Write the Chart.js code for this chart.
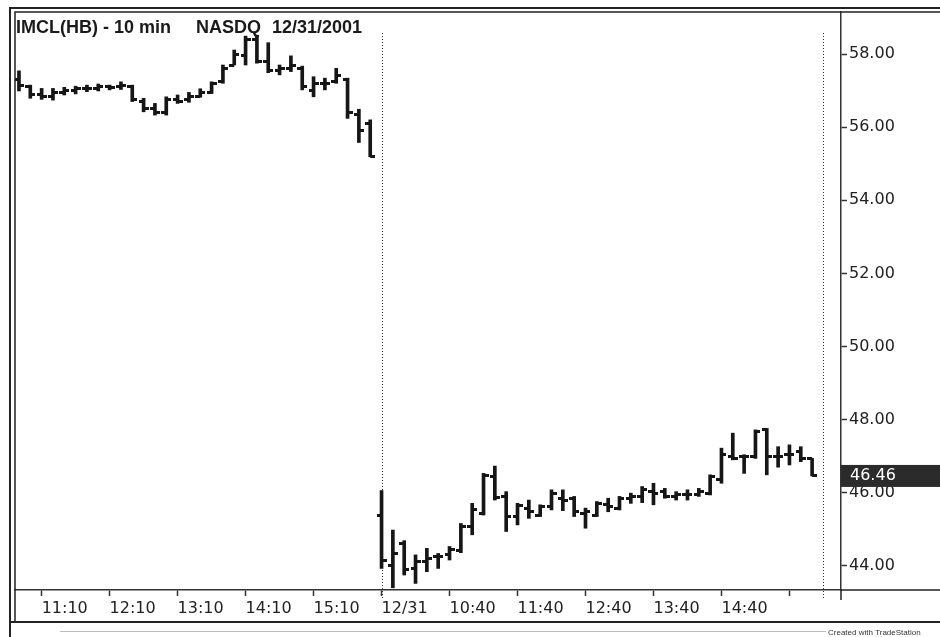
<!DOCTYPE html>
<html>
<head>
<meta charset="utf-8">
<script src="https://cdn.jsdelivr.net/npm/chart.js@4.4.0/dist/chart.umd.min.js"></script>
<style>
  html, body { margin: 0; padding: 0; background: #fff; }
  #wrap { position: relative; width: 940px; height: 637px; }
</style>
</head>
<body>
<div id="wrap"><canvas id="myChart" width="940" height="637"></canvas></div>
<script>
// IMCL 10 min bars, 12/28 (10:50-16:00) then 12/31 (9:40-16:00)
const opens = [57.30,57.10,56.90,56.85,56.95,57.00,57.05,57.05,57.10,57.10,57.10,56.70,56.50,56.40,56.75,56.75,
  56.85,56.95,57.25,57.70,57.95,58.40,57.80,57.55,57.60,57.60,57.00,57.20,57.25,57.30,56.35,56.10,
  45.39,44.02,44.60,43.93,44.12,44.25,44.30,44.42,45.07,45.44,46.44,45.90,45.35,45.57,45.39,45.62,
  45.85,45.85,45.44,45.39,45.67,45.58,45.85,45.90,46.03,46.03,45.90,45.94,45.94,45.99,46.35,47.00,
  47.00,46.99,47.72,46.99,47.04,47.13,46.94];
const highs = [57.54,57.15,57.06,57.06,57.09,57.12,57.15,57.18,57.15,57.24,57.15,56.79,56.65,56.83,56.88,56.95,
  57.05,57.24,57.70,58.11,58.49,58.49,58.31,57.70,57.95,57.67,57.38,57.34,57.61,57.34,56.49,56.20,
  46.06,44.98,44.69,44.30,44.48,44.34,44.53,45.16,45.71,46.53,46.73,46.03,45.71,45.80,45.67,46.08,
  46.08,45.90,45.58,45.76,45.85,45.90,45.99,46.17,46.26,46.12,46.03,46.08,46.12,46.49,47.22,47.63,
  47.04,47.72,47.76,47.26,47.31,47.26,46.94];
const lows = [56.99,56.79,56.76,56.74,56.88,56.91,56.97,56.99,57.02,57.03,56.70,56.42,56.33,56.33,56.65,56.68,
  56.82,56.92,57.20,57.70,57.70,57.75,57.49,57.43,57.52,57.02,56.83,57.02,57.20,56.24,55.58,55.19,
  43.93,43.40,43.75,43.52,43.84,43.93,44.16,44.36,44.85,45.39,45.80,44.94,45.12,45.30,45.35,45.53,
  45.51,45.35,45.03,45.35,45.48,45.53,45.71,45.73,45.67,45.85,45.80,45.80,45.90,45.94,46.26,46.90,
  46.53,46.94,46.49,46.70,46.76,46.85,46.46];
const closes = [57.15,56.90,56.85,56.95,57.00,57.05,57.05,57.10,57.08,57.15,56.75,56.50,56.40,56.75,56.70,56.85,
  56.95,57.20,57.60,58.00,58.40,57.80,57.55,57.60,57.70,57.10,57.20,57.20,57.40,56.40,55.90,55.20,
  44.16,44.34,43.90,44.12,44.20,44.27,44.44,45.09,45.55,46.46,45.87,45.35,45.64,45.48,45.62,45.99,
  45.80,45.49,45.49,45.71,45.62,45.85,45.90,46.08,45.99,45.91,45.94,45.94,46.03,46.44,47.04,46.94,
  47.00,47.67,46.99,46.99,47.04,46.94,46.46];

const tickPositions = [2, 8, 14, 20, 26, 32, 38, 44, 50, 56, 62, 68];
const tickLabels = ['11:10','12:10','13:10','14:10','15:10','12/31','10:40','11:40','12:40','13:40','14:40',''];
const yTicks = [44, 46, 48, 50, 52, 54, 56, 58];
const sessionBreaks = [32, 71];

const ink = '#161616';
const axisFont = { family: 'DejaVu Sans', size: 16 };

function tickImage(side) {
  const c = document.createElement('canvas');
  c.width = 10; c.height = 3;
  const g = c.getContext('2d');
  g.fillStyle = ink;
  if (side === 'left') g.fillRect(0, 0, 5, 3); else g.fillRect(5, 0, 5, 3);
  return c;
}

const frame = {
  id: 'frame',
  beforeDraw(chart) {
    const ctx = chart.ctx;
    ctx.save();
    ctx.fillStyle = '#fff';
    ctx.fillRect(0, 0, chart.width, chart.height);
    ctx.restore();
  },
  beforeDatasetsDraw(chart) {
    const ctx = chart.ctx, x = chart.scales.x;
    ctx.save();
    ctx.strokeStyle = '#333';
    ctx.lineWidth = 1;
    ctx.setLineDash([1, 2]);
    sessionBreaks.forEach(v => {
      const px = Math.round(x.getPixelForValue(v)) + 0.5;
      ctx.beginPath(); ctx.moveTo(px, 33); ctx.lineTo(px, 599); ctx.stroke();
    });
    ctx.restore();
  },
  afterDraw(chart) {
    const ctx = chart.ctx, a = chart.chartArea, y = chart.scales.y;
    ctx.save();
    ctx.strokeStyle = '#222';
    // outer and inner borders
    ctx.lineWidth = 2;
    ctx.beginPath();
    ctx.moveTo(940, 8); ctx.lineTo(10, 8); ctx.lineTo(10, 637);
    ctx.moveTo(10, 622); ctx.lineTo(940, 622);
    ctx.stroke();
    ctx.lineWidth = 1.5;
    ctx.beginPath();
    ctx.moveTo(940, 12); ctx.lineTo(a.left, 12); ctx.lineTo(a.left, 622);
    ctx.moveTo(a.right, a.bottom); ctx.lineTo(940, a.bottom);
    ctx.moveTo(a.right, a.bottom); ctx.lineTo(a.right, 600);
    ctx.stroke();
    ctx.strokeStyle = '#bbb';
    ctx.lineWidth = 1;
    ctx.beginPath(); ctx.moveTo(60, 631.5); ctx.lineTo(826, 631.5); ctx.stroke();

    // title
    ctx.fillStyle = '#1a1a1a';
    ctx.font = 'bold 18px "Liberation Sans"';
    ctx.textBaseline = 'alphabetic';
    ctx.fillText('IMCL(HB) - 10 min', 16, 33);
    ctx.fillText('NASDQ', 196, 33);
    ctx.fillText('12/31/2001', 272, 33);

    // last price marker
    const last = closes[closes.length - 1];
    const py = y.getPixelForValue(last);
    ctx.fillStyle = '#2b2b2b';
    ctx.fillRect(a.right, py - 11, 940 - a.right, 22);
    ctx.fillStyle = '#fff';
    ctx.font = '16px "DejaVu Sans"';
    ctx.textBaseline = 'middle';
    ctx.fillText(last.toFixed(2), a.right + 9, py);

    ctx.fillStyle = '#333';
    ctx.font = '8px "Liberation Sans"';
    ctx.textBaseline = 'alphabetic';
    ctx.fillText('Created with TradeStation', 828, 635);
    ctx.restore();
  }
};

const ctx = document.getElementById('myChart');
new Chart(ctx, {
  type: 'bar',
  data: {
    datasets: [{
      type: 'bar',
      label: 'range',
      data: highs.map((h, i) => ({ x: i, y: [lows[i], h] })),
      backgroundColor: ink,
      borderWidth: 0,
      barThickness: 3,
      grouped: false
    }, {
      type: 'line',
      label: 'open',
      data: opens.map((o, i) => ({ x: i, y: o })),
      showLine: false,
      pointStyle: tickImage('left'),
      pointRadius: 3
    }, {
      type: 'line',
      label: 'close',
      data: closes.map((c, i) => ({ x: i, y: c })),
      showLine: false,
      pointStyle: tickImage('right'),
      pointRadius: 3
    }]
  },
  options: {
    responsive: false,
    animation: false,
    events: [],
    layout: { padding: { left: 15, top: 12, right: 0, bottom: 0 } },
    plugins: { legend: { display: false }, tooltip: { enabled: false } },
    scales: {
      x: {
        type: 'linear',
        min: -0.35,
        max: 72.55,
        offset: false,
        afterBuildTicks: s => { s.ticks = tickPositions.map(v => ({ value: v })); },
        afterFit: s => { s.height = 47; },
        ticks: {
          align: 'start',
          autoSkip: false,
          maxRotation: 0,
          padding: 3,
          color: '#222',
          font: axisFont,
          callback: v => { const k = tickPositions.indexOf(v); return k < 0 ? '' : tickLabels[k]; }
        },
        grid: { offset: false, drawOnChartArea: false, tickLength: 6, tickColor: '#333', tickWidth: 1.5 },
        border: { display: true, color: '#333', width: 1.5 }
      },
      y: {
        type: 'linear',
        position: 'right',
        min: 43.34,
        max: 59.15,
        afterBuildTicks: s => { s.ticks = yTicks.map(v => ({ value: v })); },
        afterFit: s => { s.width = 99; },
        ticks: {
          padding: 2,
          color: '#222',
          font: axisFont,
          callback: v => v.toFixed(2)
        },
        grid: { drawOnChartArea: false, tickLength: 6, tickColor: '#333', tickWidth: 1.5 },
        border: { display: true, color: '#333', width: 1.5 }
      }
    }
  },
  plugins: [frame]
});
</script>
</body>
</html>
